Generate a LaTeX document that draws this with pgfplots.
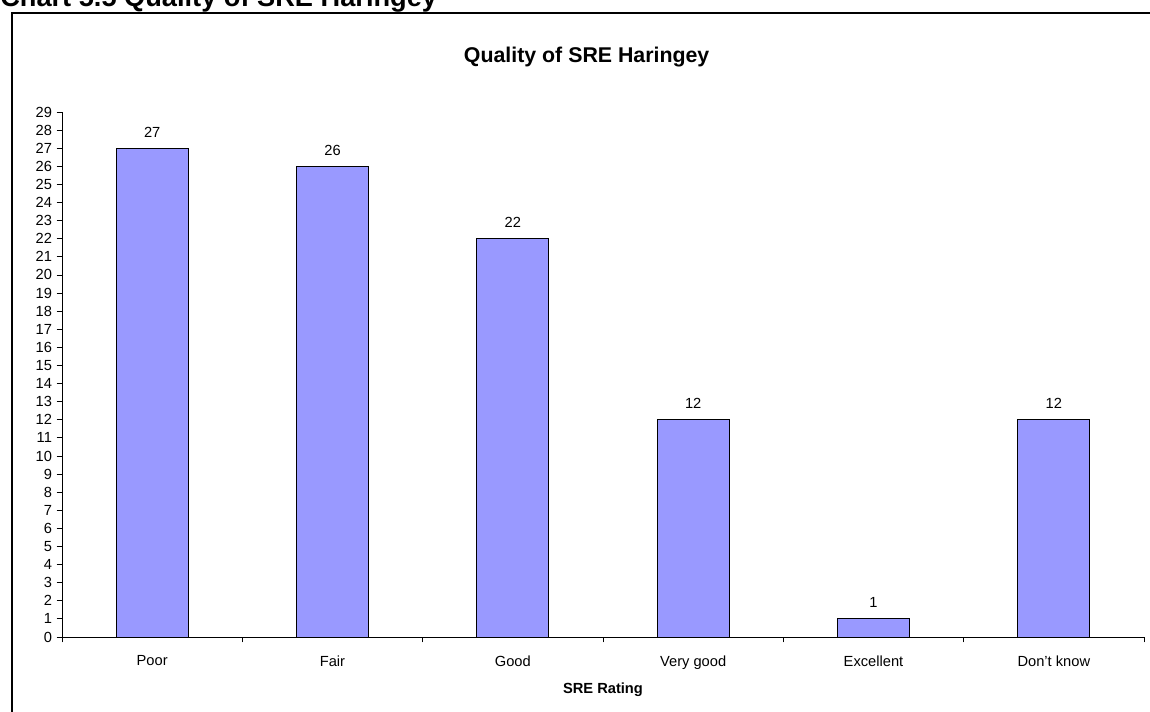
\documentclass[border=0pt]{standalone}
\usepackage{pgfplots}
\pgfplotsset{compat=1.18}
\usepackage{fontspec}
\setmainfont{Liberation Sans}
\definecolor{barblue}{HTML}{9999FF}
\begin{document}
\begin{tikzpicture}
% 1 px of the reference = 0.75pt
\useasboundingbox (0,0) rectangle (862.5pt,533.25pt);
\clip (0,0) rectangle (862.5pt,533.25pt);
\draw[line width=1.5pt] (9pt,523.3pt) rectangle (880pt,-10pt);
\node[anchor=base west,font=\bfseries\fontsize{20.4pt}{22pt}\selectfont,inner sep=0pt] at (0pt,528pt) {Chart 5.5 Quality of SRE Haringey};
\node[font=\bfseries\fontsize{16pt}{18pt}\selectfont] at (440pt,490.5pt) {Quality of SRE Haringey};
\begin{axis}[
    at={(46.5pt,55.5pt)}, anchor=origin,
    scale only axis,
    width=811.5pt, height=393.75pt,
    ybar, bar width=54pt, bar shift=0pt,
    xmin=0, xmax=6, ymin=0, ymax=29,
    axis lines*=left,
    axis line style={black, line width=0.6pt},
    tick align=outside,
    major tick length=4pt,
    tick style={black, line width=0.6pt},
    xtick={0,...,6},
    x tick label as interval,
    xticklabels={Poor,Fair,Good,Very good,Excellent,Don't know},
    ytick={0,...,29},
    /pgf/number format/assume math mode=true,
    ticklabel style={font=\fontsize{11pt}{12pt}\selectfont},
    xticklabel style={yshift=-6.5pt},
    xlabel={\bfseries SRE Rating},
    xlabel style={font=\fontsize{11pt}{12pt}\selectfont, yshift=-3pt},
    nodes near coords,
    nodes near coords style={font=\fontsize{11pt}{12pt}\selectfont, black, yshift=4.5pt},
    clip=false,
]
\addplot[fill=barblue, draw=black, line width=0.75pt] coordinates {(0.5,27) (1.5,26) (2.5,22) (3.5,12) (4.5,1) (5.5,12)};
\end{axis}
\end{tikzpicture}
\end{document}
